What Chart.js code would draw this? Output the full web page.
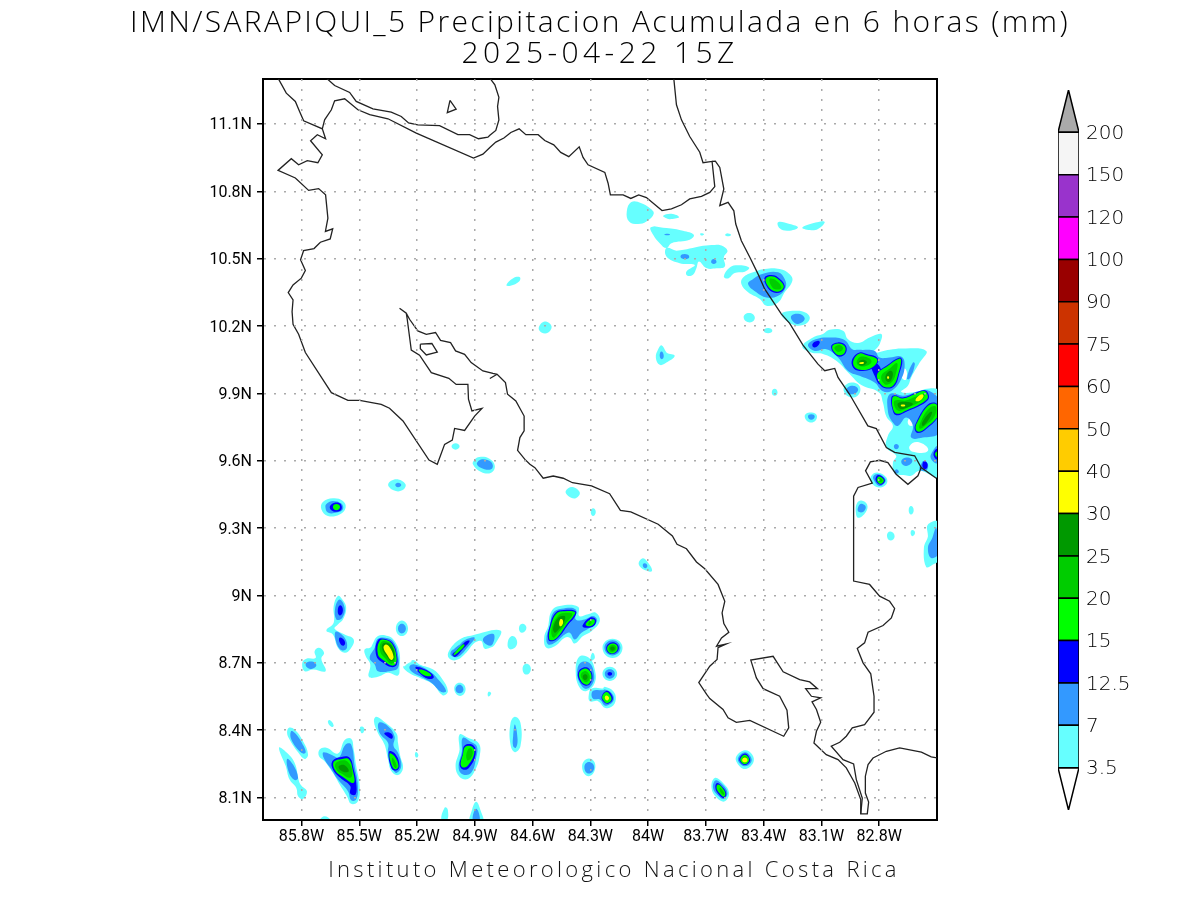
<!DOCTYPE html>
<html lang="en">
<head>
<meta charset="UTF-8">
<title>IMN/SARAPIQUI_5 Precipitacion Acumulada en 6 horas</title>
<style>
    body { margin: 0; background: #fff; }
    #page { position: relative; width: 1200px; height: 900px; overflow: hidden; }
    canvas { position: absolute; top: 0; }
    #map { left: 0; }
    #bar { left: 1040px; }
    .txt { position: absolute; left: 0; width: 1200px; text-align: center; white-space: nowrap; color: #000; font-family: 'Open Sans', sans-serif; font-weight: 300; }
    #t1 { top: 0px; font-size: 30px; letter-spacing: 2.35px; line-height: 42px; }
    #t2 { top: 31px; font-size: 30px; letter-spacing: 4.4px; line-height: 42px; }
    #foot { top: 853px; left: 14px; font-size: 22px; letter-spacing: 3.33px; line-height: 30px; color: #111; }
</style>
<script src="https://cdn.jsdelivr.net/npm/chart.js"></script>
</head>
<body>
<div id="page">
    <canvas id="map" width="1200" height="900"></canvas>
    <canvas id="bar" width="160" height="900"></canvas>
    <div class="txt" id="t1">IMN/SARAPIQUI_5 Precipitacion Acumulada en 6 horas (mm)</div>
    <div class="txt" id="t2">2025-04-22 15Z</div>
    <div class="txt" id="foot">Instituto Meteorologico Nacional Costa Rica</div>
</div>
<script>
// axis ticks, degrees west / north
const lonTicks = [85.8, 85.5, 85.2, 84.9, 84.6, 84.3, 84, 83.7, 83.4, 83.1, 82.8];
const latTicks = [8.1, 8.4, 8.7, 9, 9.3, 9.6, 9.9, 10.2, 10.5, 10.8, 11.1];

// colorbar
const barLabels = ['3.5', '7', '12.5', '15', '20', '25', '30', '40', '50', '60', '75', '90', '100', '120', '150', '200'];
const barColors = ['#66ffff', '#3399ff', '#0000ff', '#00ff00', '#00cc00', '#009900', '#ffff00', '#ffcc00', '#ff6600', '#ff0000', '#cc3300', '#990000', '#ff00ff', '#9933cc', '#f5f5f5'];

// coastlines and borders: flat lists of west, north
const coastWest = [85.922,11.304, 85.879,11.237, 85.832,11.2, 85.81,11.155, 85.789,11.114, 85.692,11.078, 85.675,11.034, 85.718,11.052, 85.753,11.025, 85.692,10.962, 85.715,10.927, 85.77,10.936, 85.815,10.918, 85.853,10.945, 85.922,10.893, 85.832,10.859, 85.763,10.804, 85.711,10.812, 85.675,10.784, 85.663,10.68, 85.676,10.621, 85.638,10.633, 85.651,10.588, 85.702,10.573, 85.735,10.545, 85.789,10.536, 85.805,10.495, 85.78,10.447, 85.801,10.413, 85.844,10.383, 85.869,10.349, 85.844,10.316, 85.849,10.264, 85.844,10.208, 85.815,10.163, 85.78,10.082, 85.645,9.903, 85.559,9.869, 85.498,9.869, 85.386,9.851, 85.343,9.834, 85.273,9.777, 85.138,9.603, 85.095,9.584, 85.057,9.673, 85.017,9.692, 85.005,9.744, 84.953,9.735, 84.901,9.799, 84.863,9.833, 84.915,9.822, 84.933,9.874, 84.936,9.94, 84.997,9.94, 85.035,9.967, 85.126,9.992, 85.187,10.07, 85.23,10.093, 85.251,10.23, 85.256,10.257, 85.291,10.279, 85.256,10.257, 85.239,10.23, 85.196,10.178, 85.152,10.163, 85.104,10.171, 85.078,10.136, 85.026,10.126, 85,10.089, 84.953,10.074, 84.919,10.037, 84.858,10.0, 84.806,9.989, 84.784,9.985, 84.741,9.948, 84.73,9.896, 84.687,9.866, 84.644,9.799, 84.644,9.733, 84.666,9.703, 84.678,9.646, 84.64,9.606, 84.614,9.584, 84.588,9.569, 84.545,9.522, 84.493,9.532, 84.441,9.522, 84.393,9.502, 84.294,9.488, 84.2,9.453, 84.144,9.379, 84.09,9.372, 83.948,9.317, 83.874,9.265, 83.85,9.228, 83.801,9.208, 83.749,9.149, 83.706,9.119, 83.637,9.049, 83.602,8.974, 83.616,8.922, 83.607,8.875, 83.581,8.836, 83.619,8.811, 83.645,8.774, 83.594,8.784, 83.637,8.767, 83.642,8.715, 83.68,8.685, 83.737,8.612, 83.696,8.559, 83.68,8.541, 83.611,8.492, 83.585,8.455, 83.542,8.435, 83.472,8.444, 83.296,8.373, 83.27,8.41, 83.279,8.489, 83.317,8.551, 83.403,8.585, 83.438,8.633, 83.467,8.712, 83.351,8.729, 83.299,8.66, 83.213,8.625, 83.161,8.615, 83.121,8.585, 83.182,8.585, 83.152,8.551, 83.104,8.544, 83.149,8.526, 83.126,8.492, 83.104,8.435, 83.126,8.395, 83.139,8.343, 83.075,8.291, 83.014,8.269, 82.971,8.232, 82.927,8.165, 82.896,8.091, 82.896,8.027, 82.862,8.027, 82.855,8.08, 82.872,8.12, 82.872,8.195, 82.858,8.247, 82.832,8.276, 82.763,8.306, 82.694,8.321, 82.581,8.302, 82.53,8.281, 82.5,8.277];
const coastSpike = [84.822,9.966, 84.784,9.985];
const coastLake = [85.671,11.304, 85.628,11.271, 85.55,11.24, 85.516,11.2, 85.429,11.167, 85.334,11.152, 85.282,11.133, 85.244,11.104, 85.196,11.096, 85.083,11.092, 84.988,11.052, 84.927,11.052, 84.881,11.034, 84.832,11.041, 84.822,11.049, 84.791,11.071, 84.775,11.118, 84.782,11.178, 84.775,11.218, 84.796,11.274, 84.822,11.304];
const coastBorder = [85.692,11.078, 85.68,11.118, 85.645,11.163, 85.628,11.203, 85.576,11.212, 85.507,11.163, 85.446,11.141, 85.351,11.123, 85.204,11.059, 84.907,10.948, 84.858,10.965, 84.822,10.995, 84.791,11.019, 84.749,11.037, 84.713,11.062, 84.67,11.078, 84.635,11.052, 84.571,11.052, 84.537,11.026, 84.49,11.007, 84.454,10.973, 84.412,10.954, 84.358,10.998, 84.338,10.951, 84.312,10.918, 84.225,10.884, 84.208,10.836, 84.196,10.784, 84.13,10.784, 84.09,10.768, 84.049,10.784, 84.009,10.772, 83.928,10.714, 83.879,10.722, 83.827,10.74, 83.784,10.766, 83.723,10.777, 83.68,10.795, 83.654,10.821, 83.668,10.933, 83.715,10.927, 83.732,10.974, 83.784,11.044, 83.827,11.118, 83.853,11.185, 83.867,11.304];
const coastCaribbean = [83.668,10.933, 83.651,10.934, 83.628,10.906, 83.607,10.81, 83.628,10.736, 83.585,10.751, 83.555,10.713, 83.545,10.654, 83.516,10.58, 83.472,10.506, 83.429,10.431, 83.395,10.365, 83.308,10.253, 83.265,10.212, 83.196,10.115, 83.118,10.03, 83.083,10.001, 83.031,10.011, 83.014,9.971, 82.954,9.896, 82.859,9.755, 82.815,9.743, 82.763,9.659, 82.72,9.637, 82.616,9.622, 82.582,9.57, 82.504,9.522];
const coastPanama = [82.582,9.57, 82.599,9.533, 82.651,9.495, 82.712,9.54, 82.755,9.592, 82.798,9.602, 82.846,9.595, 82.871,9.555, 82.836,9.5, 82.91,9.481, 82.933,9.442, 82.933,9.064, 82.85,9.049, 82.798,8.997, 82.746,8.974, 82.72,8.942, 82.737,8.9, 82.78,8.866, 82.858,8.836, 82.876,8.789, 82.914,8.764, 82.884,8.7, 82.844,8.651, 82.827,8.551, 82.827,8.48, 82.876,8.425, 82.94,8.41, 82.971,8.373, 83.005,8.346, 83.049,8.329, 82.988,8.269, 82.933,8.25, 82.919,8.18, 82.888,8.098, 82.896,8.027];
const islandNorth = [85.029,11.205, 84.997,11.166, 85.043,11.15, 85.029,11.205];
const islandGulf = [85.183,10.119, 85.123,10.122, 85.095,10.084, 85.152,10.071, 85.183,10.099, 85.183,10.119];

// rain contours, one list per colour level, each ring a flat list of west, north
const rain35 = [
    [85.611,8.998, 85.588,8.982, 85.568,8.945, 85.585,8.893, 85.611,8.871, 85.628,8.852, 85.576,8.826, 85.529,8.804, 85.547,8.76, 85.576,8.745, 85.611,8.767, 85.637,8.826, 85.671,8.844, 85.633,8.878, 85.633,8.953],
    [85.709,8.767, 85.683,8.745, 85.697,8.718, 85.675,8.663, 85.74,8.67, 85.784,8.663, 85.796,8.7, 85.775,8.718, 85.727,8.722, 85.732,8.752],
    [85.279,8.889, 85.247,8.853, 85.279,8.819, 85.31,8.853],
    [85.403,8.819, 85.351,8.819, 85.317,8.797, 85.291,8.745, 85.291,8.685, 85.299,8.644, 85.351,8.656, 85.403,8.638, 85.45,8.638, 85.443,8.693, 85.467,8.73, 85.472,8.76, 85.438,8.771],
    [85.247,8.693, 85.221,8.712, 85.187,8.693, 85.118,8.671, 85.074,8.633, 85.04,8.574, 85.066,8.555, 85.118,8.604, 85.187,8.633, 85.239,8.653, 85.273,8.682],
    [84.979,8.611, 84.948,8.584, 84.976,8.552, 85.007,8.584],
    [84.91,8.823, 84.767,8.844, 84.796,8.782, 84.822,8.767, 84.85,8.764, 84.867,8.797, 84.901,8.789, 84.945,8.745, 84.997,8.712, 85.035,8.722, 85.035,8.752, 84.979,8.804],
    [84.83,8.57, 84.815,8.565, 84.83,8.55],
    [85.654,8.445, 85.633,8.421, 85.645,8.415, 85.663,8.436],
    [85.495,8.414, 85.476,8.411, 85.478,8.391, 85.49,8.388],
    [85.865,8.411, 85.836,8.403, 85.792,8.351, 85.766,8.292, 85.784,8.272, 85.818,8.302, 85.862,8.359, 85.875,8.388],
    [85.917,8.322, 85.879,8.302, 85.836,8.255, 85.813,8.173, 85.801,8.154, 85.772,8.128, 85.792,8.094, 85.818,8.106, 85.827,8.143, 85.862,8.18, 85.882,8.24],
    [85.706,8.314, 85.671,8.322, 85.611,8.296, 85.576,8.356, 85.542,8.362, 85.529,8.314, 85.516,8.24, 85.498,8.151, 85.507,8.084, 85.542,8.072, 85.564,8.106, 85.602,8.158, 85.637,8.21, 85.68,8.262, 85.709,8.284],
    [85.412,8.46, 85.374,8.44, 85.308,8.388, 85.299,8.344, 85.287,8.284, 85.273,8.232, 85.299,8.2, 85.334,8.218, 85.351,8.27, 85.369,8.336, 85.403,8.388, 85.424,8.44],
    [84.979,8.381, 84.936,8.366, 84.879,8.341, 84.875,8.284, 84.901,8.218, 84.936,8.183, 84.979,8.192, 85,8.24, 84.979,8.314],
    [85.208,8.302, 85.196,8.296, 85.196,8.281, 85.208,8.281],
    [85.057,8.054, 85.04,8.044, 85.049,7.99, 85.074,7.99],
    [84.893,8.081, 84.872,8.047, 84.858,7.99, 84.924,7.99, 84.914,8.047],
    [85.68,8.017, 85.645,7.99, 85.706,7.99],
    [85.637,9.433, 85.585,9.421, 85.571,9.391, 85.602,9.361, 85.663,9.354, 85.697,9.384, 85.689,9.416],
    [85.308,9.517, 85.26,9.495, 85.277,9.468, 85.322,9.468, 85.35,9.495],
    [85,9.678, 84.979,9.664, 85,9.649, 85.021,9.664],
    [84.876,9.617, 84.824,9.609, 84.796,9.577, 84.815,9.547, 84.867,9.55, 84.91,9.584, 84.901,9.606],
    [84.537,10.22, 84.502,10.2, 84.519,10.171, 84.554,10.171, 84.568,10.193],
    [83.931,10.114, 83.905,10.082, 83.862,10.067, 83.905,10.037, 83.94,10.027, 83.96,10.059, 83.948,10.096],
    [84.393,9.483, 84.355,9.458, 84.376,9.433, 84.415,9.443, 84.428,9.465],
    [84.286,9.388, 84.272,9.372, 84.286,9.354, 84.298,9.372],
    [84.03,9.165, 84,9.146, 83.98,9.109, 84.018,9.113, 84.049,9.139],
    [84.502,8.93, 84.459,8.953, 84.364,8.95, 84.358,8.908, 84.312,8.916, 84.272,8.923, 84.251,8.886, 84.294,8.841, 84.338,8.819, 84.381,8.786, 84.407,8.812, 84.433,8.812, 84.485,8.774, 84.528,8.767, 84.54,8.812, 84.519,8.864],
    [84.654,8.874, 84.632,8.856, 84.654,8.834, 84.671,8.852],
    [84.706,8.819, 84.68,8.789, 84.71,8.76, 84.73,8.782],
    [84.632,8.696, 84.609,8.673, 84.632,8.648, 84.652,8.673],
    [84.185,8.807, 84.133,8.767, 84.185,8.721, 84.237,8.767],
    [84.358,8.727, 84.306,8.722, 84.277,8.67, 84.277,8.611, 84.32,8.574, 84.355,8.589, 84.376,8.656],
    [84.289,8.745, 84.277,8.722, 84.298,8.712],
    [84.225,8.593, 84.182,8.574, 84.168,8.537, 84.19,8.504, 84.225,8.5, 84.26,8.529, 84.303,8.529, 84.308,8.559, 84.294,8.586, 84.234,8.586],
    [84.199,8.682, 84.161,8.651, 84.199,8.619, 84.237,8.651],
    [84.692,8.46, 84.663,8.433, 84.663,8.329, 84.692,8.302, 84.715,8.336, 84.715,8.43],
    [84.308,8.274, 84.274,8.24, 84.308,8.195, 84.343,8.237],
    [84.087,10.752, 84.035,10.747, 83.992,10.725, 83.971,10.7, 84.009,10.665, 84.052,10.654, 84.099,10.665, 84.111,10.71],
    [83.922,10.691, 83.879,10.7, 83.839,10.685, 83.879,10.676, 83.905,10.68],
    [84.736,10.383, 84.701,10.413, 84.666,10.417, 84.67,10.398, 84.715,10.379],
    [83.729,10.612, 83.71,10.609, 83.724,10.603],
    [83.986,10.64, 83.905,10.636, 83.819,10.624, 83.763,10.606, 83.784,10.584, 83.879,10.569, 83.905,10.547, 83.94,10.569, 83.974,10.606],
    [83.905,10.547, 83.853,10.535, 83.715,10.557, 83.654,10.561, 83.619,10.558, 83.588,10.535, 83.607,10.506, 83.602,10.465, 83.645,10.457, 83.698,10.458, 83.736,10.487, 83.749,10.458, 83.767,10.428, 83.798,10.425, 83.801,10.443, 83.758,10.472, 83.836,10.48, 83.905,10.51],
    [83.325,10.662, 83.265,10.654, 83.222,10.639, 83.273,10.624, 83.317,10.635],
    [83.199,10.639, 83.1,10.666, 83.083,10.661, 83.118,10.632, 83.161,10.627],
    [83.597,10.61, 83.573,10.61, 83.573,10.602, 83.597,10.602],
    [83.576,10.461, 83.533,10.471, 83.476,10.461, 83.498,10.442, 83.55,10.436, 83.585,10.412, 83.607,10.421],
    [83.455,10.439, 83.395,10.454, 83.317,10.454, 83.265,10.431, 83.251,10.402, 83.291,10.35, 83.325,10.305, 83.386,10.29, 83.42,10.32, 83.481,10.35, 83.516,10.387, 83.507,10.416],
    [83.476,10.258, 83.446,10.238, 83.472,10.216, 83.504,10.238],
    [83.377,10.191, 83.355,10.179, 83.377,10.168, 83.4,10.179],
    [83.343,9.92, 83.328,9.904, 83.343,9.889, 83.358,9.904],
    [83.308,10.253, 83.239,10.268, 83.178,10.258, 83.161,10.231, 83.196,10.204, 83.256,10.209],
    [83.199,10.109, 83.144,10.149, 83.092,10.164, 83.058,10.183, 82.988,10.179, 82.962,10.141, 82.91,10.124, 82.85,10.149, 82.789,10.164, 82.798,10.119, 82.829,10.082, 82.746,10.094, 82.677,10.1, 82.556,10.089, 82.59,10.037, 82.634,9.971, 82.651,9.934, 82.686,9.907, 82.625,9.904, 82.539,9.922, 82.49,9.907, 82.49,9.533, 82.59,9.555, 82.634,9.533, 82.673,9.536, 82.72,9.544, 82.729,9.592, 82.712,9.622, 82.763,9.659, 82.755,9.711, 82.729,9.755, 82.763,9.797, 82.781,9.859, 82.801,9.904, 82.893,9.937, 82.954,9.986, 83.023,10.045, 83.092,10.075, 83.153,10.082],
    [82.945,9.948, 82.898,9.922, 82.933,9.882, 82.985,9.914],
    [83.156,9.815, 83.123,9.797, 83.153,9.77, 83.187,9.797],
    [82.807,9.547, 82.763,9.525, 82.763,9.495, 82.801,9.481, 82.841,9.503, 82.841,9.533],
    [83.498,8.311, 83.459,8.291, 83.455,8.254, 83.498,8.227, 83.538,8.254, 83.542,8.284],
    [83.654,8.187, 83.611,8.165, 83.58,8.121, 83.602,8.083, 83.642,8.098, 83.671,8.143],
    [82.893,9.423, 82.863,9.405, 82.87,9.371, 82.91,9.346, 82.922,9.375, 82.915,9.412],
    [82.635,9.398, 82.621,9.38, 82.635,9.361, 82.647,9.38],
    [82.742,9.285, 82.72,9.264, 82.742,9.245, 82.76,9.267],
    [82.628,9.291, 82.614,9.279, 82.628,9.264, 82.637,9.279],
    [82.547,9.316, 82.49,9.326, 82.49,9.16, 82.521,9.138, 82.556,9.127, 82.568,9.212, 82.547,9.264]
];
// dry holes inside the big Caribbean patch
const rainGaps = [
    [82.686,10.0, 82.663,10.008, 82.66,9.963, 82.68,9.966],
    [82.651,9.778, 82.608,9.822, 82.599,9.785, 82.634,9.755],
    [82.642,9.666, 82.59,9.681, 82.547,9.644, 82.625,9.64]
];
const rain70 = [
    [85.602,8.982, 85.576,8.945, 85.588,8.901, 85.619,8.893, 85.625,8.945],
    [85.623,8.838, 85.576,8.812, 85.564,8.767, 85.588,8.755, 85.616,8.782],
    [85.775,8.7, 85.74,8.705, 85.723,8.688, 85.749,8.673, 85.775,8.682],
    [85.279,8.874, 85.258,8.853, 85.279,8.831, 85.299,8.853],
    [85.403,8.807, 85.351,8.809, 85.317,8.786, 85.299,8.737, 85.299,8.678, 85.343,8.663, 85.403,8.663, 85.42,8.693, 85.446,8.722, 85.42,8.767],
    [85.239,8.685, 85.213,8.693, 85.135,8.663, 85.083,8.619, 85.049,8.574, 85.074,8.57, 85.126,8.611, 85.187,8.641, 85.23,8.663],
    [84.979,8.602, 84.959,8.581, 84.979,8.564, 85,8.581],
    [84.997,8.767, 84.953,8.801, 84.901,8.812, 84.936,8.771, 84.988,8.727, 85.023,8.733, 85.023,8.752],
    [84.832,8.825, 84.8,8.826, 84.81,8.78, 84.837,8.78, 84.858,8.804],
    [85.853,8.396, 85.827,8.381, 85.789,8.329, 85.779,8.299, 85.801,8.299, 85.853,8.359],
    [85.875,8.272, 85.844,8.247, 85.818,8.188, 85.836,8.178, 85.865,8.21],
    [85.685,8.302, 85.611,8.277, 85.571,8.336, 85.542,8.336, 85.524,8.24, 85.507,8.151, 85.516,8.091, 85.542,8.088, 85.559,8.128, 85.611,8.18, 85.645,8.225, 85.685,8.277],
    [85.398,8.433, 85.351,8.418, 85.317,8.373, 85.322,8.329, 85.299,8.299, 85.282,8.24, 85.305,8.21, 85.325,8.225, 85.351,8.299, 85.351,8.344, 85.394,8.388],
    [84.962,8.366, 84.919,8.347, 84.889,8.326, 84.893,8.277, 84.919,8.21, 84.962,8.203, 84.984,8.232, 84.967,8.307],
    [84.893,8.05, 84.875,7.99, 84.91,7.99],
    [85.637,9.421, 85.593,9.409, 85.585,9.384, 85.616,9.369, 85.663,9.369, 85.676,9.395, 85.668,9.41],
    [85.299,9.502, 85.282,9.492, 85.299,9.482, 85.313,9.492],
    [84.867,9.606, 84.815,9.594, 84.81,9.565, 84.85,9.562, 84.889,9.584],
    [83.931,10.086, 83.919,10.067, 83.929,10.052, 83.94,10.067],
    [84.018,9.143, 84.004,9.131, 84.016,9.121, 84.028,9.134],
    [84.493,8.923, 84.45,8.941, 84.376,8.938, 84.376,8.893, 84.329,8.893, 84.286,8.908, 84.265,8.886, 84.303,8.856, 84.346,8.834, 84.381,8.804, 84.407,8.834, 84.433,8.826, 84.485,8.789, 84.519,8.782, 84.528,8.812, 84.511,8.864],
    [84.185,8.8, 84.144,8.767, 84.185,8.733, 84.227,8.767],
    [84.351,8.7, 84.306,8.7, 84.282,8.656, 84.286,8.611, 84.32,8.584, 84.351,8.604, 84.369,8.653],
    [84.225,8.581, 84.19,8.566, 84.178,8.537, 84.199,8.515, 84.225,8.51, 84.251,8.537, 84.286,8.54, 84.293,8.567, 84.277,8.578, 84.234,8.578],
    [84.199,8.671, 84.173,8.651, 84.199,8.629, 84.225,8.651],
    [84.692,8.425, 84.678,8.359, 84.687,8.322, 84.701,8.329, 84.701,8.373],
    [84.308,8.258, 84.28,8.234, 84.308,8.207, 84.331,8.234],
    [83.827,10.517, 83.793,10.517, 83.79,10.502, 83.827,10.502],
    [83.914,10.609, 83.888,10.609, 83.888,10.605, 83.914,10.605],
    [83.659,10.498, 83.645,10.486, 83.659,10.476, 83.673,10.486],
    [83.455,10.409, 83.412,10.431, 83.325,10.439, 83.291,10.409, 83.286,10.372, 83.325,10.335, 83.386,10.327, 83.438,10.35, 83.481,10.387],
    [83.256,10.246, 83.213,10.253, 83.187,10.231, 83.222,10.209, 83.251,10.223],
    [83.17,10.115, 83.13,10.141, 83.058,10.149, 82.98,10.138, 82.94,10.097, 82.902,10.094, 82.824,10.089, 82.798,10.06, 82.746,10.06, 82.686,10.064, 82.668,10.03, 82.686,9.963, 82.737,9.911, 82.784,9.911, 82.824,9.948, 82.902,9.978, 82.962,10.0, 83.014,10.06, 83.075,10.097, 83.135,10.089],
    [82.746,9.896, 82.677,9.889, 82.59,9.911, 82.539,9.911, 82.49,9.867, 82.49,9.726, 82.573,9.703, 82.634,9.703, 82.625,9.755, 82.66,9.792, 82.703,9.755, 82.729,9.77, 82.755,9.822],
    [82.625,10.037, 82.615,10.03, 82.642,9.966, 82.656,9.966],
    [82.712,9.674, 82.698,9.663, 82.712,9.651, 82.724,9.663],
    [82.66,9.614, 82.628,9.6, 82.66,9.577, 82.686,9.595],
    [82.57,9.599, 82.547,9.585, 82.556,9.555, 82.59,9.562, 82.582,9.585],
    [82.521,9.644, 82.49,9.666, 82.49,9.592, 82.53,9.607],
    [82.712,9.562, 82.698,9.55, 82.72,9.544],
    [82.945,9.934, 82.91,9.919, 82.936,9.896, 82.971,9.911],
    [83.153,9.807, 83.135,9.797, 83.153,9.782, 83.17,9.797],
    [82.807,9.541, 82.77,9.522, 82.77,9.503, 82.801,9.488, 82.829,9.515, 82.829,9.533],
    [83.498,8.302, 83.469,8.284, 83.465,8.257, 83.498,8.239, 83.529,8.257, 83.531,8.281],
    [83.649,8.177, 83.614,8.158, 83.588,8.121, 83.607,8.094, 83.637,8.109, 83.663,8.143],
    [82.893,9.408, 82.87,9.395, 82.884,9.372, 82.91,9.375, 82.907,9.398],
    [82.504,9.301, 82.49,9.19, 82.53,9.167, 82.547,9.212, 82.524,9.257]
];
const rain125 = [
    [85.599,8.956, 85.585,8.935, 85.599,8.911, 85.612,8.93],
    [85.602,8.812, 85.576,8.797, 85.58,8.777, 85.599,8.786],
    [85.403,8.801, 85.356,8.804, 85.322,8.782, 85.305,8.737, 85.305,8.693, 85.334,8.681, 85.377,8.7, 85.412,8.733],
    [85.208,8.681, 85.17,8.675, 85.126,8.653, 85.114,8.633, 85.144,8.629, 85.187,8.653],
    [84.988,8.76, 84.953,8.792, 84.927,8.797, 84.962,8.76, 85,8.727, 85.017,8.737],
    [85.64,8.262, 85.593,8.281, 85.55,8.277, 85.529,8.225, 85.516,8.166, 85.519,8.114, 85.547,8.118, 85.547,8.151, 85.599,8.188, 85.637,8.225],
    [85.369,8.388, 85.334,8.385, 85.329,8.363, 85.356,8.373],
    [85.346,8.304, 85.311,8.292, 85.291,8.24, 85.308,8.22, 85.334,8.232],
    [84.953,8.332, 84.907,8.332, 84.896,8.292, 84.931,8.232, 84.962,8.225, 84.979,8.247, 84.965,8.292],
    [85.628,9.413, 85.599,9.409, 85.592,9.384, 85.616,9.373, 85.647,9.381, 85.652,9.398],
    [84.481,8.923, 84.438,8.935, 84.376,8.93, 84.381,8.905, 84.415,8.871, 84.459,8.819, 84.493,8.797, 84.519,8.804, 84.511,8.864],
    [84.303,8.901, 84.272,8.893, 84.282,8.864, 84.329,8.856, 84.341,8.866],
    [84.185,8.792, 84.152,8.767, 84.185,8.739, 84.218,8.764],
    [84.338,8.678, 84.306,8.673, 84.289,8.641, 84.303,8.604, 84.329,8.599, 84.355,8.619, 84.364,8.656],
    [84.217,8.575, 84.19,8.559, 84.185,8.534, 84.208,8.518, 84.23,8.525, 84.242,8.549],
    [84.199,8.659, 84.187,8.651, 84.199,8.642, 84.211,8.651],
    [83.395,10.416, 83.36,10.427, 83.325,10.416, 83.291,10.379, 83.308,10.353, 83.351,10.35, 83.386,10.379],
    [83.147,10.119, 83.118,10.134, 83.109,10.124, 83.135,10.104],
    [83.049,10.112, 83.014,10.127, 82.976,10.115, 82.971,10.085, 82.997,10.064, 83.032,10.075],
    [82.94,10.052, 82.902,10.082, 82.864,10.075, 82.812,10.06, 82.807,10.037, 82.841,10.008, 82.902,10.0, 82.936,10.015],
    [82.841,10.03, 82.807,10.03, 82.789,9.993, 82.798,9.941, 82.824,9.978],
    [82.815,9.986, 82.763,10.023, 82.694,10.06, 82.68,10.045, 82.694,9.993, 82.72,9.934, 82.763,9.922, 82.798,9.941],
    [82.737,9.882, 82.72,9.892, 82.677,9.882, 82.608,9.904, 82.564,9.914, 82.544,9.896, 82.547,9.871, 82.608,9.837, 82.651,9.822, 82.712,9.803, 82.732,9.83],
    [82.608,9.77, 82.556,9.844, 82.513,9.859, 82.49,9.837, 82.49,9.8, 82.556,9.741, 82.599,9.723, 82.616,9.741],
    [82.513,9.644, 82.49,9.651, 82.49,9.607, 82.513,9.614],
    [82.573,9.592, 82.556,9.596, 82.551,9.57, 82.57,9.565],
    [82.805,9.536, 82.772,9.518, 82.777,9.5, 82.798,9.494, 82.819,9.515],
    [83.498,8.296, 83.476,8.281, 83.472,8.259, 83.498,8.245, 83.523,8.259, 83.524,8.278],
    [83.642,8.165, 83.614,8.147, 83.594,8.118, 83.607,8.098, 83.632,8.113, 83.651,8.143]
];
const rain150 = [
    [85.394,8.797, 85.356,8.8, 85.325,8.777, 85.308,8.733, 85.311,8.696, 85.334,8.688, 85.369,8.708, 85.403,8.737],
    [85.19,8.67, 85.152,8.663, 85.126,8.644, 85.152,8.641, 85.183,8.656],
    [85.005,8.745, 84.962,8.782, 84.953,8.777, 84.988,8.745, 85.01,8.733],
    [85.633,8.258, 85.588,8.272, 85.554,8.27, 85.533,8.218, 85.529,8.166, 85.585,8.192, 85.623,8.218],
    [85.343,8.296, 85.317,8.284, 85.296,8.24, 85.311,8.225, 85.33,8.24],
    [84.95,8.326, 84.914,8.326, 84.903,8.296, 84.936,8.243, 84.962,8.234, 84.974,8.25, 84.962,8.292],
    [85.619,9.407, 85.6,9.394, 85.619,9.379, 85.637,9.394],
    [84.476,8.92, 84.433,8.93, 84.381,8.926, 84.39,8.905, 84.421,8.874, 84.462,8.823, 84.493,8.801, 84.514,8.807, 84.505,8.864],
    [84.298,8.893, 84.277,8.889, 84.289,8.867, 84.317,8.864, 84.324,8.874],
    [84.185,8.786, 84.158,8.767, 84.185,8.742, 84.213,8.763],
    [84.336,8.673, 84.31,8.669, 84.294,8.641, 84.306,8.608, 84.329,8.604, 84.351,8.623, 84.358,8.656],
    [84.217,8.57, 84.196,8.555, 84.191,8.534, 84.21,8.521, 84.227,8.528, 84.239,8.549],
    [83.389,10.412, 83.36,10.422, 83.329,10.412, 83.296,10.379, 83.311,10.357, 83.348,10.356, 83.381,10.382],
    [83.044,10.109, 83.014,10.122, 82.981,10.112, 82.976,10.088, 82.999,10.07, 83.028,10.079],
    [82.933,10.049, 82.902,10.078, 82.864,10.07, 82.815,10.055, 82.812,10.037, 82.846,10.011, 82.898,10.005, 82.929,10.018],
    [82.81,9.986, 82.76,10.02, 82.694,10.055, 82.686,10.045, 82.699,9.993, 82.725,9.937, 82.763,9.926, 82.795,9.944],
    [82.732,9.879, 82.717,9.888, 82.677,9.877, 82.608,9.899, 82.568,9.91, 82.549,9.893, 82.552,9.874, 82.611,9.841, 82.651,9.827, 82.708,9.809, 82.729,9.833],
    [82.603,9.77, 82.552,9.84, 82.513,9.855, 82.49,9.833, 82.49,9.803, 82.559,9.745, 82.596,9.729, 82.611,9.743],
    [82.507,9.637, 82.49,9.64, 82.49,9.617, 82.507,9.622],
    [82.801,9.53, 82.777,9.515, 82.781,9.503, 82.798,9.498, 82.812,9.515],
    [83.498,8.291, 83.479,8.278, 83.478,8.26, 83.498,8.248, 83.519,8.26, 83.519,8.276],
    [83.637,8.158, 83.614,8.143, 83.599,8.118, 83.607,8.103, 83.628,8.118, 83.645,8.143]
];
const rain200 = [
    [85.386,8.792, 85.351,8.794, 85.325,8.771, 85.313,8.73, 85.32,8.703, 85.339,8.697, 85.363,8.718, 85.391,8.748],
    [85.623,8.252, 85.585,8.266, 85.559,8.258, 85.536,8.218, 85.547,8.188, 85.593,8.207, 85.619,8.225],
    [85.329,8.277, 85.311,8.255, 85.308,8.232, 85.322,8.24],
    [84.936,8.314, 84.914,8.314, 84.919,8.277, 84.941,8.267],
    [84.467,8.911, 84.424,8.923, 84.393,8.916, 84.433,8.871, 84.467,8.834, 84.493,8.812, 84.502,8.849],
    [84.303,8.886, 84.294,8.878, 84.31,8.868],
    [84.185,8.78, 84.165,8.766, 84.185,8.748, 84.206,8.763],
    [84.332,8.663, 84.312,8.656, 84.303,8.633, 84.32,8.614, 84.341,8.626, 84.35,8.648],
    [83.369,10.409, 83.334,10.402, 83.308,10.372, 83.325,10.362, 83.355,10.372],
    [83.032,10.104, 83.006,10.115, 82.988,10.1, 83.006,10.085, 83.023,10.089],
    [82.916,10.045, 82.893,10.064, 82.85,10.055, 82.841,10.037, 82.876,10.02, 82.91,10.026],
    [82.789,9.978, 82.746,10.011, 82.708,10.035, 82.712,9.993, 82.737,9.948, 82.772,9.941],
    [82.72,9.867, 82.668,9.867, 82.599,9.889, 82.564,9.896, 82.582,9.867, 82.651,9.837, 82.698,9.822, 82.72,9.841],
    [82.59,9.763, 82.544,9.83, 82.507,9.841, 82.513,9.797, 82.564,9.755, 82.59,9.743],
    [82.798,9.522, 82.784,9.515, 82.789,9.506, 82.801,9.51],
    [83.498,8.284, 83.486,8.272, 83.498,8.254, 83.512,8.269],
    [83.628,8.143, 83.611,8.128, 83.606,8.113, 83.623,8.123]
];
const rain250 = [
    [85.377,8.786, 85.346,8.786, 85.322,8.76, 85.32,8.718, 85.334,8.708, 85.356,8.727, 85.381,8.76],
    [85.606,8.24, 85.576,8.244, 85.554,8.218, 85.576,8.213, 85.602,8.225],
    [84.467,8.901, 84.433,8.908, 84.438,8.878, 84.467,8.846, 84.485,8.834, 84.493,8.856],
    [84.185,8.773, 84.173,8.764, 84.185,8.754, 84.197,8.764],
    [84.332,8.648, 84.315,8.641, 84.324,8.623, 84.339,8.633],
    [82.902,10.045, 82.876,10.049, 82.864,10.037, 82.888,10.023, 82.905,10.03],
    [82.767,9.978, 82.737,10.0, 82.732,9.971, 82.755,9.951],
    [82.703,9.856, 82.651,9.862, 82.625,9.852, 82.668,9.833, 82.694,9.833],
    [82.577,9.77, 82.539,9.815, 82.525,9.815, 82.547,9.778, 82.573,9.755]
];
const rain300 = [
    [85.363,8.782, 85.343,8.771, 85.322,8.727, 85.334,8.712, 85.356,8.737, 85.374,8.767],
    [84.457,8.893, 84.443,8.89, 84.447,8.867, 84.46,8.864],
    [84.217,8.555, 84.203,8.544, 84.213,8.532, 84.225,8.544],
    [82.902,10.037, 82.881,10.039, 82.881,10.033, 82.902,10.032],
    [82.758,9.975, 82.75,9.975, 82.75,9.966, 82.758,9.966],
    [82.604,9.882, 82.577,9.896, 82.57,9.886, 82.59,9.867, 82.611,9.867],
    [82.686,9.849, 82.667,9.849, 82.667,9.843, 82.686,9.843],
    [83.498,8.278, 83.484,8.266, 83.498,8.256, 83.512,8.266]
];

function toPoints(flat) {
    const pts = [];
    for (let i = 0; i < flat.length; i += 2) pts.push({ x: flat[i], y: flat[i + 1] });
    return pts;
}

// closed smooth ring, filled without an outline. Runs past the start so the seam is smooth too
function ringDataset(ring, color, order) {
    const pts = toPoints(ring);
    const n = pts.length;
    const wrapped = [pts[n - 1]].concat(pts, [pts[0], pts[1]]);
    return { data: wrapped, showLine: true, pointRadius: 0, borderWidth: 0, borderColor: color, backgroundColor: color, fill: 'shape', tension: n <= 4 ? 0.55 : 0.42, order: order };
}

function lineDataset(flat) {
    return { data: toPoints(flat), showLine: true, pointRadius: 0, borderWidth: 1.3, borderColor: '#222', fill: false, tension: 0, order: 0 };
}

const levels = [[rain35, '#66ffff'], [rainGaps, '#ffffff'], [rain70, '#3399ff'], [rain125, '#0000ff'], [rain150, '#00ff00'], [rain200, '#00cc00'], [rain250, '#009900'], [rain300, '#ffff00']];
const mapDatasets = [];
levels.forEach(function (lvl, i) {
    lvl[0].forEach(function (ring) { mapDatasets.push(ringDataset(ring, lvl[1], 20 - i)); });
});
[coastWest, coastSpike, coastLake, coastBorder, coastCaribbean, coastPanama, islandNorth, islandGulf].forEach(function (c) {
    mapDatasets.push(lineDataset(c));
});

const tickFont = { family: "Roboto, sans-serif", size: 16 };
const dotGrid = { color: '#aaaaaa', lineWidth: 1.5, z: 1, tickColor: '#000', tickLength: 6, tickBorderDash: [] };

new Chart(document.getElementById('map'), {
    type: 'scatter',
    data: { datasets: mapDatasets },
    options: {
        responsive: false,
        animation: false,
        events: [],
        layout: { padding: { left: 190, right: 263, top: 79, bottom: 40 } },
        plugins: { legend: { display: false }, tooltip: { enabled: false }, title: { display: false } },
        scales: {
            x: {
                type: 'linear', position: 'bottom', reverse: true, min: 82.5, max: 86,
                afterBuildTicks: function (a) { a.ticks = lonTicks.map(function (v) { return { value: v }; }); },
                afterFit: function (a) { a.height = 40; },
                grid: dotGrid,
                border: { color: '#000', width: 2, dash: [2, 8], z: 1 },
                ticks: { color: '#000', font: tickFont, padding: 1, maxRotation: 0, autoSkip: false, callback: function (v) { return v + 'W'; } }
            },
            y: {
                type: 'linear', position: 'left', min: 8, max: 11.3,
                afterBuildTicks: function (a) { a.ticks = latTicks.map(function (v) { return { value: v }; }); },
                afterFit: function (a) { a.width = 73; },
                grid: dotGrid,
                border: { color: '#000', width: 2, dash: [2, 8], z: 1 },
                ticks: { color: '#000', font: tickFont, padding: 5, labelOffset: 1.5, autoSkip: false, callback: function (v) { return v + 'N'; } }
            },
            xTop: {
                type: 'linear', axis: 'x', position: 'top', min: 82.5, max: 86,
                afterFit: function (a) { a.height = 0; },
                grid: { drawOnChartArea: false, drawTicks: false },
                border: { color: '#000', width: 2 },
                ticks: { display: false }
            },
            yRight: {
                type: 'linear', axis: 'y', position: 'right', min: 8, max: 11.3,
                afterFit: function (a) { a.width = 0; },
                grid: { drawOnChartArea: false, drawTicks: false },
                border: { color: '#000', width: 2 },
                ticks: { display: false }
            }
        }
    }
});

// colorbar: one box per level between ticks, arrow triangles at the ends
function barDataset(pts, color) {
    return { data: pts, showLine: true, pointRadius: 0, borderWidth: 1.5, borderColor: '#000', backgroundColor: color, fill: 'shape', tension: 0 };
}
const barDatasets = barColors.map(function (c, i) {
    return barDataset([{ x: 0, y: i }, { x: 1, y: i }, { x: 1, y: i + 1 }, { x: 0, y: i + 1 }, { x: 0, y: i }], c);
});
barDatasets.push(barDataset([{ x: 0, y: 15 }, { x: 0.5, y: 16 }, { x: 1, y: 15 }, { x: 0, y: 15 }], '#aaaaaa'));
barDatasets.push(barDataset([{ x: 0, y: 0 }, { x: 0.5, y: -1 }, { x: 1, y: 0 }, { x: 0, y: 0 }], '#ffffff'));

new Chart(document.getElementById('bar'), {
    type: 'scatter',
    data: { datasets: barDatasets },
    options: {
        responsive: false,
        animation: false,
        events: [],
        layout: { padding: { left: 18, right: 0, top: 90, bottom: 90 } },
        plugins: { legend: { display: false }, tooltip: { enabled: false } },
        scales: {
            x: { type: 'linear', min: 0, max: 1, display: false },
            y: {
                type: 'linear', position: 'right', min: -1, max: 16,
                afterBuildTicks: function (a) { a.ticks = barLabels.map(function (l, i) { return { value: i }; }); },
                afterFit: function (a) { a.width = 121; },
                grid: { display: false, drawTicks: false },
                border: { display: false },
                ticks: { color: '#000', padding: 7, labelOffset: 1.5, autoSkip: false, font: { family: "'DejaVu Sans', sans-serif", size: 20, weight: 200 }, callback: function (v) { return barLabels[v]; } }
            }
        }
    }
});
</script>
</body>
</html>
